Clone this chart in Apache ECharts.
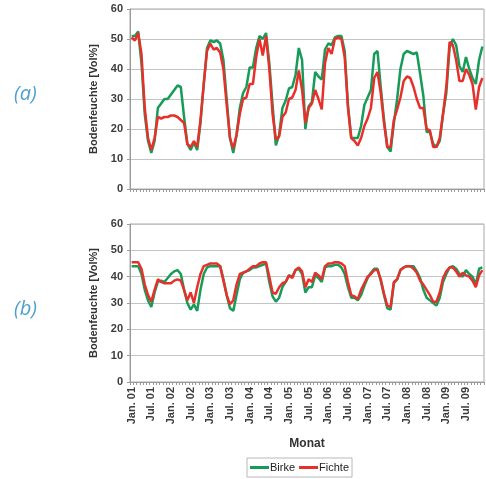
<!DOCTYPE html>
<html><head><meta charset="utf-8">
<script src="https://cdn.jsdelivr.net/npm/echarts@6/dist/echarts.min.js"></script>
<style>html,body{margin:0;padding:0;background:#fff}#c{width:486px;height:479px}</style>
</head><body><div id="c"></div>
<script>
const monthNames = ['Jan.','Feb.','Mär.','Apr.','Mai','Jun.','Jul.','Aug.','Sep.','Okt.','Nov.','Dez.'];
const years = ['01','02','03','04','05','06','07','08','09'];
const yTicks = [0,10,20,30,40,50,60];
const seriesNames = ['Birke','Fichte'];

const birkeA = [51,51,52.5,42,25,16,12,16,27,28.5, 30,30,31.5,33,34.5,34,24,15,13,15.5,
 13,22,35,47,49.5,49,49.5,48.5,43,30, 17,12,18,27,32,34,40.5,40.5,47,51,
 50,52,42,28,14.5,18,27,29.5,33.5,34, 38,47,43,20,27.5,29,39,37.5,36.5,46.5,
 48.5,48,50.5,51,51,46,28,17,17,17, 21,28,30.5,33,45,46,34,23,14,12.5,
 22,30,40,45,46,45.5,45,45.5,38.5,31, 19,19,15,14,16,25,32,47,50,48,
 41,39,44,40,37,35,43,47.5];
const fichteA = [50.5,49.5,52,45,27,17,13,17,24,23.5, 24,24,24.5,24.5,24,23,22,15,14,16,
 14,23,35,46,48.5,46.5,47,45.5,40,28, 17,13.5,18,25,30,30.5,35,35,44,50,
 44.5,51,40,25,16.5,17.5,24,25.5,30,30.5, 33,39.5,33,22,27,28.5,33,30,26.5,42,
 47,45,50,50.5,50,44,27,17,16,14.5, 17,21,23.5,27,37,39,32,22,14,14,
 23,26.5,30.5,36,37.5,37,34,30,27,27, 20,19.5,14,14,17,25,34,49,48,43,
 36,36,40,38,35,26.5,34,37];
const birkeB = [44,44,44,41,35,31,28.5,34,38,38.5, 38,39.5,41,42,42.5,41,35,30,27.5,29.5,
 27,35,41,43.5,44,44,44,44,39,33, 28,27,33,39,41.5,42,42.5,43.5,43.5,44,
 44.5,45,38,32.5,30.5,32,36,38,40.5,40, 42.5,43,41,34,36,36,40.5,39.5,38,43.5,
 44,44,44.5,44.5,43.5,41,36,32,32,31, 33,36.5,39.5,41.5,43,43,38.5,33,28,27.5,
 37.5,39,42.5,43.5,44,44,44,42,39.5,35, 32,31,30,29,32,38,41,43.5,44,43,
 41,40,42.5,41,40,37,43,43.5];
const fichteB = [45.5,45.5,45.5,43,37,33,30.5,35,39,38, 37.5,37.5,37.5,38.5,39,38.5,35,31,34,30,
 36,41,44,44.5,45,45,45,44,38.5,33, 29.5,31,37,41,41.5,42,43,44,44,45,
 45.5,45.5,40,34,33.5,36,37.5,38,40.5,39.5, 42.5,43.5,42,36,39,38,41.5,40.5,39,44,
 45,45,45.5,45.5,45,44,38,33,32.5,31.5, 35,37.5,40,41,42.5,42.5,39,33.5,29,28.5,
 38,39,42.5,43.5,44,44,43,41.5,38.5,37, 35,33,30.5,30.5,34,39.5,42,43.5,43.5,42,
 40,41.5,40.5,40,38.5,36,40.5,42.5];

const categories = [];
years.forEach(y => monthNames.forEach(m => categories.push(m + ' ' + y)));

const GREEN = '#169c58', RED = '#e8302b';
const txt = {fontFamily:'Liberation Sans, Arial, sans-serif', fontWeight:'bold', fontSize:11, color:'#3c3c3c'};

function xAxis(gi, showLabels) {
  return {
    type:'category', gridIndex:gi, data:categories, boundaryGap:true,
    axisLine:{lineStyle:{color:'#9a9a9a', width:1}},
    axisTick:{show:true, interval:0, length:3, lineStyle:{color:'#9a9a9a'}},
    axisLabel: showLabels ? Object.assign({}, txt, {rotate:90, margin:5,
        interval:(i)=> i % 6 === 0}) : {show:false},
    name: showLabels ? 'Monat' : '',
    nameLocation:'middle', nameGap:56,
    nameTextStyle:{fontFamily:'Liberation Sans, Arial, sans-serif', fontWeight:'bold', fontSize:12, color:'#333'}
  };
}
function yAxis(gi) {
  return {
    type:'value', gridIndex:gi, min:0, max:60, interval:10,
    axisLine:{show:true, lineStyle:{color:'#9a9a9a'}},
    axisTick:{show:true, length:3, lineStyle:{color:'#9a9a9a'}},
    axisLabel:Object.assign({}, txt, {margin:7, formatter:v=> yTicks.includes(v) ? String(v) : ''}),
    splitLine:{show:true, lineStyle:{color:'#c4c4c4', width:1.2}},
    name:'Bodenfeuchte [Vol%]', nameLocation:'middle', nameGap:31,
    nameTextStyle:{fontFamily:'Liberation Sans, Arial, sans-serif', fontWeight:'bold', fontSize:11, color:'#333'}
  };
}
function line(name, data, gi, color) {
  return {type:'line', name, data, xAxisIndex:gi, yAxisIndex:gi, symbol:'none',
    lineStyle:{color, width:2.5}, itemStyle:{color}, animation:false};
}

const chart = echarts.init(document.getElementById('c'), null, {renderer:'canvas'});
chart.setOption({
  backgroundColor:'#fff',
  animation:false,
  grid:[
    {left:130, right:2, top:9, height:180, show:true, borderColor:'#a8a8a8', borderWidth:1, backgroundColor:'transparent'},
    {left:130, right:2, top:224, height:158, show:true, borderColor:'#a8a8a8', borderWidth:1, backgroundColor:'transparent'}
  ],
  xAxis:[xAxis(0,false), xAxis(1,true)],
  yAxis:[yAxis(0), yAxis(1)],
  legend:{data:seriesNames, left:247, top:458, orient:'horizontal',
    borderColor:'#b8b8b8', borderWidth:1, padding:[4,3], itemGap:4,
    itemWidth:19, itemHeight:3, icon:'rect',
    textStyle:{fontFamily:'Liberation Sans, Arial, sans-serif', fontSize:11, color:'#222', padding:[0,0,0,-4]}},
  series:[
    line(seriesNames[0], birkeA, 0, GREEN),
    line(seriesNames[1], fichteA, 0, RED),
    line(seriesNames[0], birkeB, 1, GREEN),
    line(seriesNames[1], fichteB, 1, RED)
  ],
  graphic:[
    {type:'text', left:14, top:84, style:{text:'(a)', fontSize:20, fontStyle:'italic', fontFamily:'Open Sans, Noto Sans, sans-serif', fill:'#4e9fcf'}},
    {type:'text', left:14, top:299, style:{text:'(b)', fontSize:20, fontStyle:'italic', fontFamily:'Open Sans, Noto Sans, sans-serif', fill:'#4e9fcf'}}
  ]
});
</script></body></html>
